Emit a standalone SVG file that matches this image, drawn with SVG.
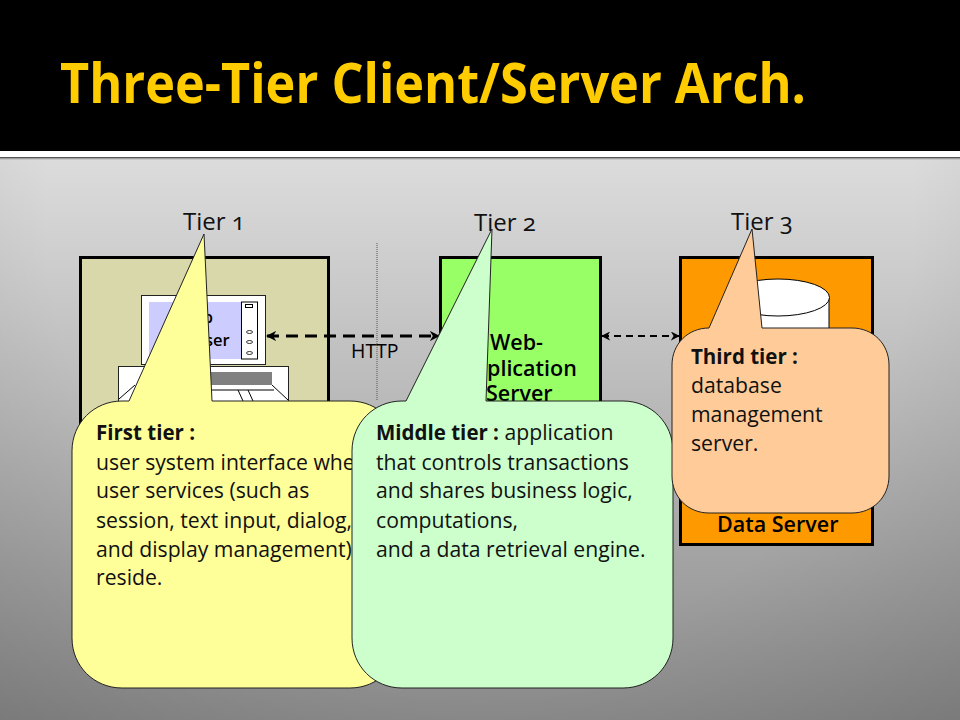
<svg xmlns="http://www.w3.org/2000/svg" width="960" height="720" viewBox="0 0 960 720">
<defs>
<linearGradient id="bg" x1="0" y1="0" x2="0" y2="1"><stop offset="0" stop-color="#dcdcdc"/><stop offset="1" stop-color="#8c8c8c"/></linearGradient>
<radialGradient id="vig" gradientUnits="userSpaceOnUse" cx="480" cy="220" r="720"><stop offset="0.6" stop-color="#000" stop-opacity="0"/><stop offset="1" stop-color="#000" stop-opacity="0.14"/></radialGradient>
<linearGradient id="sh" x1="0" y1="0" x2="0" y2="1"><stop offset="0" stop-color="#666"/><stop offset="1" stop-color="#666" stop-opacity="0"/></linearGradient>
<marker id="ah" viewBox="0 0 10 10" refX="9" refY="5" markerWidth="3.4" markerHeight="3.4" orient="auto-start-reverse"><path d="M0 0L10 5L0 10L3 5Z" fill="#000"/></marker>
<marker id="ah2" viewBox="0 0 10 10" refX="9" refY="5" markerWidth="4.500" markerHeight="4.500" orient="auto-start-reverse"><path d="M0 0L10 5L0 10L3 5Z" fill="#000"/></marker>
</defs>
<style>
text{font-family:"Open Sans","Noto Sans","Liberation Sans",sans-serif;fill:#000}
.tier{font-size:24px;font-feature-settings:"onum";fill:#111}
.b{font-size:21.500px;font-weight:600}
.c{font-size:21.200px;fill:#111}
.cb{font-weight:700;font-size:20.500px}
.box{stroke:#000;stroke-width:3}
.call{stroke:#222;stroke-width:1}
.dash{fill:none;stroke:#000;stroke-width:3;stroke-dasharray:12 7;marker-start:url(#ah);marker-end:url(#ah)}
.dash2{fill:none;stroke:#000;stroke-width:2;stroke-dasharray:7 5;marker-start:url(#ah2);marker-end:url(#ah2)}
.thin{fill:none;stroke:#000;stroke-width:1}
</style>
<rect width="960" height="720" fill="#000"/>
<rect y="158" width="960" height="562" fill="url(#bg)"/>
<rect y="158" width="960" height="562" fill="url(#vig)"/>
<rect y="151" width="960" height="6" fill="#fff"/>
<rect y="157" width="960" height="3" fill="url(#sh)"/>
<g id="title">
<text x="60" y="103" font-size="55" font-weight="700" style="fill:#ffcc00" textLength="746" lengthAdjust="spacingAndGlyphs">Three-Tier Client/Server Arch.</text>
</g>
<g id="tier-labels">
<text class="tier" x="183" y="230">Tier 1</text>
<text class="tier" x="474" y="231">Tier 2</text>
<text class="tier" x="731" y="230">Tier 3</text>
</g>
<g id="tier1-box">
<rect class="box" x="80.500" y="257.500" width="248" height="200" fill="#d8d8aa"/>
<rect x="141.500" y="295.500" width="124" height="69" fill="#fff" stroke="#222"/>
<rect x="149" y="302" width="92" height="57" fill="#ccccff"/>
<rect x="241.500" y="302" width="16" height="57" fill="#fff" stroke="#000"/>
<rect x="245.500" y="304.500" width="7" height="3" fill="#fff" stroke="#000"/>
<ellipse cx="249.500" cy="332" rx="3" ry="1.500" fill="#fff" stroke="#000" stroke-width="0.800"/>
<ellipse cx="249.500" cy="342" rx="3" ry="1.500" fill="#fff" stroke="#000" stroke-width="0.800"/>
<ellipse cx="249.500" cy="353" rx="3" ry="1.500" fill="#fff" stroke="#000" stroke-width="0.800"/>
<text x="203" y="323" font-size="16" font-weight="600">b</text>
<text x="205" y="346" font-size="16.500" font-weight="600">ser</text>
<rect x="118.500" y="366.500" width="170" height="50" fill="#fff" stroke="#222"/>
<rect x="205" y="372" width="67" height="13" fill="#808080"/>
<path class="thin" d="M119 399L135 385M205 390H274M272 385L288 400M238 390L243 401M248 390L253 401"/>
</g>
<g id="tier2-box">
<rect class="box" x="440.500" y="257.500" width="160" height="200" fill="#99ff66"/>
<text class="b" x="490" y="350">Web-</text>
<text class="b" x="487" y="376">plication</text>
<text class="b" x="486" y="401">Server</text>
</g>
<g id="tier3-box">
<rect class="box" x="680.500" y="257.500" width="192" height="287" fill="#ff9900"/>
<path d="M726 298V340H829V298Z" fill="#fff" stroke="#000"/>
<ellipse cx="778" cy="297.500" rx="51.500" ry="18.500" fill="#fff" stroke="#000"/>
<text class="b" x="717" y="532">Data Server</text>
</g>
<g id="connectors">
<path d="M377 243V401" fill="none" stroke="#555" stroke-width="1" stroke-dasharray="1 1"/>
<path class="dash" d="M267 336H439"/>
<path class="dash2" d="M602 336H679"/>
<text x="351" y="358" font-size="19.500" font-weight="500">HTTP</text>
</g>
<g id="callout-first">
<path class="call" fill="#ffff99" d="M204 234L212 401H350C378 401 400 423 400 451V638C400 666 378 688 350 688H122C94 688 72 666 72 638V451C72 423 94 401 122 401H129Z"/>
<text class="c cb" x="96" y="440">First tier :</text>
<text class="c" x="96" y="470">user system interface whe</text>
<text class="c" x="96" y="498">user services (such as</text>
<text class="c" x="96" y="528">session, text input, dialog,</text>
<text class="c" x="96" y="557">and display management)</text>
<text class="c" x="96" y="585">reside.</text>
</g>
<g id="callout-middle">
<path class="call" fill="#ccffcc" d="M492 229L486 401H623C651 401 673 423 673 451V638C673 666 651 688 623 688H402C374 688 352 666 352 638V451C352 423 374 401 402 401H406Z"/>
<text class="c" x="376" y="440"><tspan class="cb">Middle tier :</tspan> application</text>
<text class="c" x="376" y="470">that controls transactions</text>
<text class="c" x="376" y="498">and shares business logic,</text>
<text class="c" x="376" y="528">computations,</text>
<text class="c" x="376" y="557">and a data retrieval engine.</text>
</g>
<g id="callout-third">
<path class="call" fill="#ffcc99" d="M752 229L762 328H852C873 328 889 344 889 365V476C889 497 873 513 852 513H709C688 513 672 497 672 476V365C672 344 688 328 709 328Z"/>
<text class="c cb" x="691" y="364">Third tier :</text>
<text class="c" x="691" y="393">database</text>
<text class="c" x="691" y="422">management</text>
<text class="c" x="691" y="451">server.</text>
</g>
</svg>
